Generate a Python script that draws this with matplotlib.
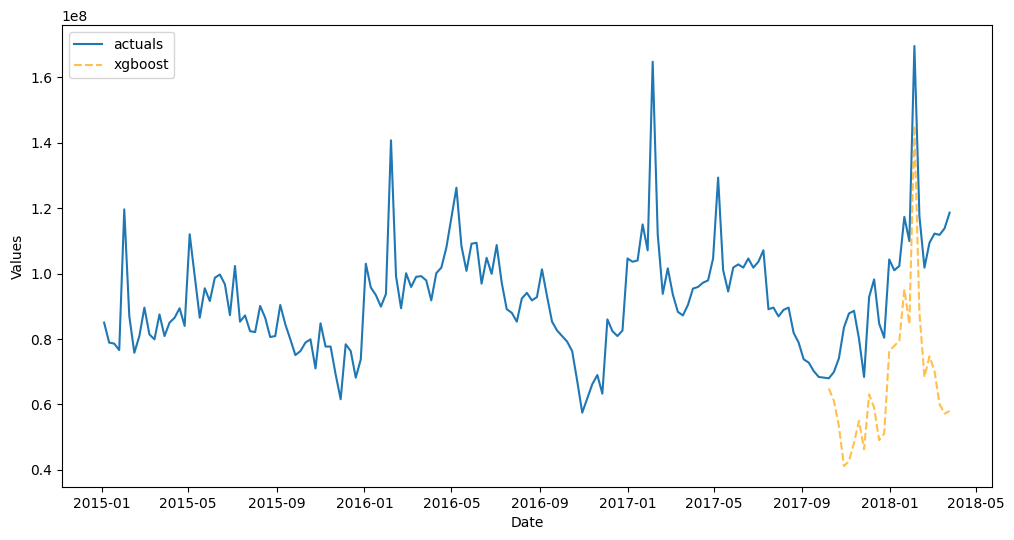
import numpy as np
import pandas as pd
import matplotlib
matplotlib.use("Agg")
import matplotlib.pyplot as plt

# weekly series, values in units of 1e8
dates = pd.date_range("2015-01-04", periods=169, freq="W")

actuals = np.array([
    0.850, 0.789, 0.786, 0.766, 1.196, 0.870, 0.758, 0.809, 0.896, 0.814,
    0.799, 0.875, 0.809, 0.850, 0.865, 0.894, 0.840, 1.120, 0.992, 0.865,
    0.955, 0.916, 0.987, 0.997, 0.967, 0.873, 1.023, 0.853, 0.872, 0.824,
    0.821, 0.901, 0.865, 0.806, 0.809, 0.904, 0.845, 0.799, 0.751, 0.763,
    0.789, 0.799, 0.710, 0.848, 0.777, 0.777, 0.692, 0.616, 0.784, 0.763,
    0.682, 0.738, 1.030, 0.957, 0.934, 0.899, 0.938, 1.407, 0.992, 0.894,
    1.001, 0.959, 0.990, 0.992, 0.979, 0.918, 1.001, 1.018, 1.079, 1.170,
    1.262, 1.084, 1.008, 1.091, 1.094, 0.969, 1.048, 0.999, 1.087, 0.972,
    0.891, 0.880, 0.853, 0.924, 0.941, 0.918, 0.928, 1.013, 0.931, 0.853,
    0.826, 0.809, 0.792, 0.763, 0.672, 0.575, 0.619, 0.662, 0.690, 0.633,
    0.860, 0.824, 0.809, 0.826, 1.046, 1.036, 1.040, 1.150, 1.071, 1.647,
    1.120, 0.938, 1.016, 0.936, 0.883, 0.872, 0.904, 0.954, 0.959, 0.972,
    0.979, 1.046, 1.293, 1.010, 0.945, 1.018, 1.028, 1.018, 1.046, 1.018,
    1.036, 1.071, 0.891, 0.896, 0.869, 0.889, 0.896, 0.819, 0.789, 0.738,
    0.728, 0.702, 0.684, 0.682, 0.680, 0.699, 0.741, 0.835, 0.878, 0.886,
    0.800, 0.684, 0.928, 0.982, 0.847, 0.804, 1.043, 1.010, 1.023, 1.173,
    1.099, 1.695, 1.175, 1.018, 1.094, 1.122, 1.118, 1.138, 1.186,
]) * 1e8

# xgboost forecast covers the last 25 weeks
xgb_start = 144
xgboost = np.array([
    0.649, 0.611, 0.534, 0.412, 0.427, 0.483, 0.550, 0.463, 0.631, 0.590,
    0.491, 0.511, 0.763, 0.779, 0.794, 0.952, 0.845, 1.452, 0.880, 0.684,
    0.747, 0.702, 0.601, 0.572, 0.580,
]) * 1e8

fig = plt.figure(figsize=(10.14, 5.40), dpi=100)
ax = fig.add_axes([0.0610, 0.0981, 0.9172, 0.8556])

ax.plot(dates, actuals, label="actuals")
ax.plot(dates[xgb_start:], xgboost, label="xgboost",
        color="orange", linestyle="--", alpha=0.7)

ax.set_xlabel("Date")
ax.set_ylabel("Values")
ax.legend(loc="upper left")

fig.savefig("out.png", dpi=100)
